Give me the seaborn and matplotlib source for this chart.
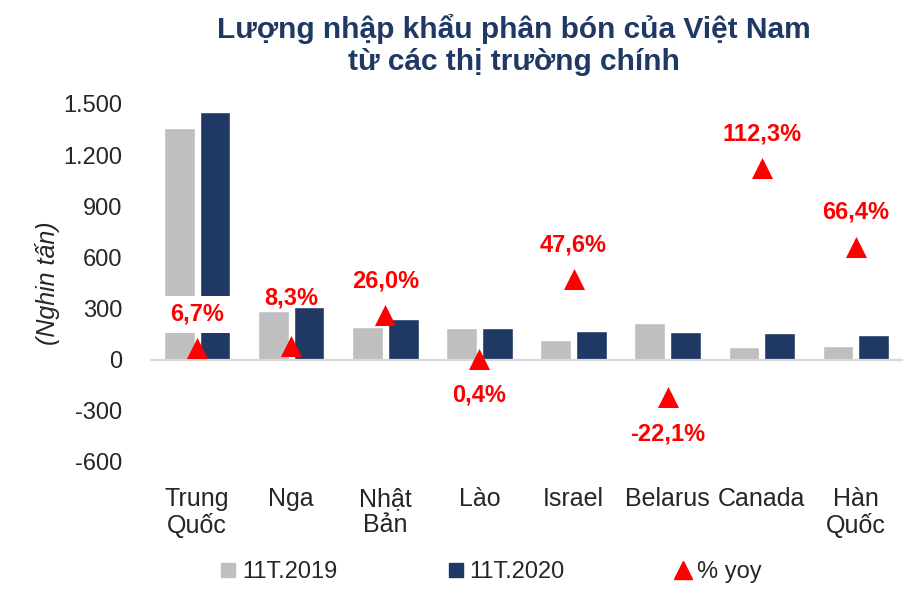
import pandas as pd
import numpy as np
import seaborn as sns
import matplotlib.pyplot as plt
from matplotlib.lines import Line2D

# du lieu doc tu bieu do (nghin tan)
thi_truong = ['Trung\nQuốc', 'Nga', 'Nhật\nBản', 'Lào', 'Israel', 'Belarus', 'Canada', 'Hàn\nQuốc']
nam_2019 = [1360, 288, 194, 184, 116, 216, 72, 82]
nam_2020 = [1454, 308, 241, 185, 170, 163, 157, 143]
yoy = [6.7, 8.3, 26.0, 0.4, 47.6, -22.1, 112.3, 66.4]
ten_series = ['11T.2019', '11T.2020']
yticks = [-600, -300, 0, 300, 600, 900, 1200, 1500]

xam = '#BFBFBF'
xanh = '#1F3864'
do = '#FF0000'

df = pd.DataFrame({'thi_truong': thi_truong * 2,
                   'gia_tri': nam_2019 + nam_2020,
                   'nam': [ten_series[0]] * 8 + [ten_series[1]] * 8})
df_yoy = pd.DataFrame({'thi_truong': thi_truong, 'yoy': yoy})

sns.set_style('white')
plt.rcParams['font.family'] = ['Liberation Sans', 'DejaVu Sans']

fig = plt.figure(figsize=(9.19, 5.89), dpi=100)
ax = fig.add_axes([150 / 919, 1 - 462 / 589, 753 / 919, 358 / 589])

sns.barplot(data=df, x='thi_truong', y='gia_tri', hue='nam', order=thi_truong,
            palette=[xam, xanh], width=0.76, gap=0.14, saturation=1, ax=ax, legend=False)
ax.set_xlim(-0.5, 7.5)
ax.set_ylim(-600, 1500)
ax.set_yticks(yticks)
ax.set_yticklabels([f'{v:,}'.replace(',', '.') for v in yticks])
ax.axhline(0, color='#D9D9D9', lw=1.6, zorder=1)
ax.set_xlabel('')
ax.set_ylabel('(Nghin tấn)', fontsize=18, style='italic', color='#262626', labelpad=2)
ax.tick_params(axis='y', labelsize=17, colors='#262626', length=0, pad=20)
ax.tick_params(axis='x', labelsize=18, colors='#262626', length=0, pad=18)
for lb in ax.get_xticklabels():
    lb.set_linespacing(1.1)
sns.despine(ax=ax, left=True, bottom=True)

# truc phu cho % yoy (an)
ax2 = ax.twinx()
sns.scatterplot(data=df_yoy, x='thi_truong', y='yoy', marker='^', s=230, color=do,
                linewidth=0, ax=ax2, zorder=5)
ax2.set_ylim(-60, 150)
ax2.set_xlim(-0.5, 7.5)
ax2.set_yticks([])
ax2.set_ylabel('')
ax2.set_xlabel('')
sns.despine(ax=ax2, left=True, bottom=True, right=True)

# nhan cua Nga dat cao hon mot chut nhu ban goc
dich = {1: 34}
for i, v in enumerate(yoy):
    nhan = f'{v:.1f}%'.replace('.', ',')
    dy = -26 if v < 5 else dich.get(i, 24.5)
    hop = dict(facecolor='white', edgecolor='none', pad=5) if i == 0 else None
    ax2.annotate(nhan, (i, v), xytext=(0, dy), textcoords='offset points',
                 ha='center', va='center', color=do, fontsize=17, fontweight='bold',
                 bbox=hop, zorder=4)

fig.text(514 / 919, 1 - 45 / 589, 'Lượng nhập khẩu phân bón của Việt Nam\ntừ các thị trường chính',
         ha='center', va='center', fontsize=21.5, fontweight='bold', color=xanh, linespacing=1.15)

handles = [Line2D([], [], marker='s', ls='', color=xam, markersize=10),
           Line2D([], [], marker='s', ls='', color=xanh, markersize=10),
           Line2D([], [], marker='^', ls='', color=do, markersize=13)]
fig.legend(handles, ten_series + ['% yoy'], loc='center', bbox_to_anchor=(489 / 919, 1 - 572 / 589),
           ncol=3, frameon=False, fontsize=17, handletextpad=0.1, columnspacing=4.5,
           handlelength=1.0, labelcolor='#262626')

fig.savefig('out.png', dpi=100)
